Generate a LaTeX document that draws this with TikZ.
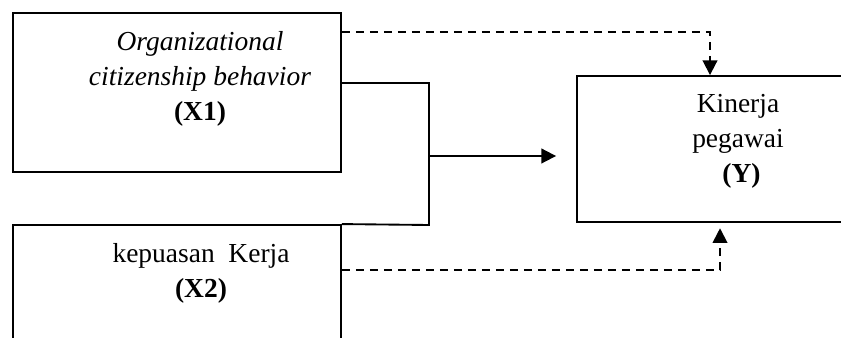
\documentclass[tikz,border=0pt]{standalone}
\usepackage{fontspec}
\setmainfont{Liberation Serif}
\usetikzlibrary{arrows.meta}
\tikzset{
  varbox/.style={draw, line width=1.4pt, rectangle, inner sep=0pt},
  vartext/.style={align=center, inner sep=0pt, font=\fontsize{20.6}{26.25}\selectfont},
  solidline/.style={line width=1.4pt},
  dashline/.style={line width=1.4pt, dash pattern=on 6pt off 4.5pt},
  tip/.style={-{Triangle[length=11pt,width=11pt]}}
}
\begin{document}
\begin{tikzpicture}[x=0.75pt,y=0.75pt,yscale=-1,xscale=1]
        \useasboundingbox (0,0) rectangle (841,338);
        \clip (0,0) rectangle (841,338);
        %Rect X1
        \node[varbox, minimum width=246pt, minimum height=119.25pt] (x1) at (177,92.5) {};
        %Rect X2
        \node[varbox, minimum width=246pt, minimum height=119.25pt] (x2) at (177,304.5) {};
        %Rect Y
        \node[varbox, minimum width=241.5pt, minimum height=109.5pt] (y) at (738,149) {};

        % joints
        \coordinate (bt) at (429,83);
        \coordinate (bb) at (429,225);
        \coordinate (bm) at (429,156);
        \coordinate (dt) at (710,32);
        \coordinate (db) at (720,270);

        %Straight Lines
        \draw[solidline] (x1.east |- bt) -- (bt) -- (bb) -- (x2.north east);
        \draw[solidline, tip, shorten >=15pt] (bm) -- (y.west |- bm);
        %Dashed Lines
        \draw[dashline, tip] (x1.east |- dt) -- (dt) -- (dt |- y.north);
        \draw[dashline, tip, shorten >=4pt] (x2.east |- db) -- (db) -- (db |- y.south);

        % Text Node
        \node[vartext] (t1) at (200,78.5) {\textit{Organizational}\\\textit{citizenship behavior}\\\textbf{(X1)}};
        % Text Node
        \node[vartext] (t2) at (201,273.5) {kepuasan\ \ Kerja\\\textbf{(X2)}};
        % Text Node
        \node[vartext] (t3) at (738,141) {Kinerja\\pegawai\\\ \textbf{(Y)}};
\end{tikzpicture}
\end{document}
